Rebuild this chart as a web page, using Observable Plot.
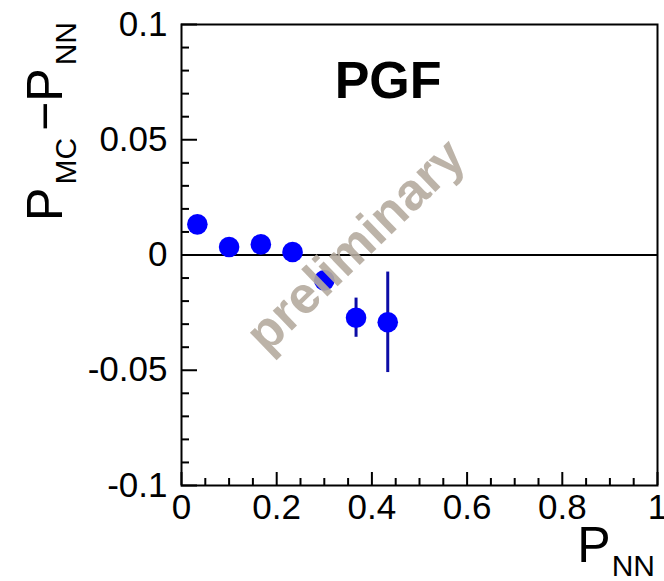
<!DOCTYPE html>
<html><head><meta charset="utf-8">
<script src="https://cdn.jsdelivr.net/npm/d3@7"></script>
<script src="https://cdn.jsdelivr.net/npm/@observablehq/plot@0.6"></script>
<style>body{margin:0;background:#fff}</style>
</head><body><div id="chart"></div>
<script>
// Data
const pNN  = [0.0333, 0.1000, 0.1667, 0.2333, 0.3000, 0.3667, 0.4333];
const diff = [0.0133, 0.0035, 0.0046, 0.0013, -0.0110, -0.0272, -0.0292];
const err  = [0.0020, 0.0020, 0.0020, 0.0020, 0.0040, 0.0085, 0.0218];

const xMajorTicks = [0, 0.2, 0.4, 0.6, 0.8, 1];
const xTickLabels = ["0", "0.2", "0.4", "0.6", "0.8", "1"];
const xMinorTicks = [0.05,0.1,0.15,0.25,0.3,0.35,0.45,0.5,0.55,0.65,0.7,0.75,0.85,0.9,0.95];
const yMajorTicks = [-0.1, -0.05, 0, 0.05, 0.1];
const yTickLabels = ["-0.1", "-0.05", "0", "0.05", "0.1"];
const yMinorTicks = [-0.09,-0.08,-0.07,-0.06,-0.04,-0.03,-0.02,-0.01,0.01,0.02,0.03,0.04,0.06,0.07,0.08,0.09];

const data = pNN.map((x, i) => ({x, y: diff[i], e: err[i]}));

const W = 664, H = 581;
const mL = 181, mR = 7, mT = 24, mB = 96;
const fw = W - mL - mR, fh = H - mT - mB;
const font = "'Liberation Sans', Arial, Helvetica, sans-serif";

const chart = Plot.plot({
  width: W, height: H,
  marginLeft: mL, marginRight: mR, marginTop: mT, marginBottom: mB,
  style: {fontFamily: font, background: "white", color: "black"},
  x: {domain: [0, 1]},
  y: {domain: [-0.1, 0.1]},
  marks: [
    Plot.ruleY([0], {stroke: "black", strokeWidth: 2}),
    Plot.ruleX(data, {x: "x", y1: d => d.y - d.e, y2: d => d.y + d.e, stroke: "#0c0ca6", strokeWidth: 3}),
    Plot.dot(data, {x: "x", y: "y", r: 10.3, fill: "#0000ff", stroke: "none"}),
    Plot.text([{x: 0.366, y: 0.004}], {x: "x", y: "y", text: () => "preliminary", rotate: -44,
      fontSize: 52, fontWeight: "bold", fill: "#b5ab9f", fillOpacity: 0.9, textAnchor: "middle", lineAnchor: "middle"}),
    Plot.text([{x: 0.434, y: 0.0683}], {x: "x", y: "y", text: () => "PGF", fontSize: 52, fontWeight: "bold",
      fill: "black", textAnchor: "middle", lineAnchor: "bottom"}),
    // inward ticks
    Plot.tickY(yMajorTicks, {y: d => d, insetRight: fw - 16, stroke: "black", strokeWidth: 2}),
    Plot.tickY(yMinorTicks, {y: d => d, insetRight: fw - 8, stroke: "black", strokeWidth: 2}),
    Plot.tickX(xMajorTicks, {x: d => d, insetTop: fh - 13, stroke: "black", strokeWidth: 2}),
    Plot.tickX(xMinorTicks, {x: d => d, insetTop: fh - 7, stroke: "black", strokeWidth: 2}),
    Plot.axisY({ticks: yMajorTicks, tickSize: 0, tickPadding: 14, fontSize: 35, label: null,
      tickFormat: d => yTickLabels[yMajorTicks.indexOf(d)]}),
    Plot.axisX({ticks: xMajorTicks, tickSize: 0, tickPadding: 9, fontSize: 35, label: null,
      tickFormat: d => xTickLabels[xMajorTicks.indexOf(d)]}),
    Plot.frame({stroke: "black", strokeWidth: 2})
  ]
});
document.getElementById("chart").appendChild(chart);

// Axis titles with subscripts
const svg = d3.select(chart);
const xt = svg.append("text").attr("x", 655).attr("y", 562).attr("text-anchor", "end")
  .attr("font-family", font).attr("font-size", 50).attr("fill", "black");
xt.append("tspan").text("P");
xt.append("tspan").attr("font-size", 30).attr("dy", 14).attr("dx", 1).text("NN");

const yt = svg.append("text").attr("transform", "translate(62,22) rotate(-90)").attr("text-anchor", "end")
  .attr("font-family", font).attr("font-size", 50).attr("fill", "black");
yt.append("tspan").text("P");
yt.append("tspan").attr("font-size", 30).attr("dy", 14).attr("dx", 3).text("MC");
yt.append("tspan").attr("dy", -14).attr("dx", 7).text("\u2212P");
yt.append("tspan").attr("font-size", 30).attr("dy", 14).attr("dx", 3).text("NN");
</script>
</body></html>
